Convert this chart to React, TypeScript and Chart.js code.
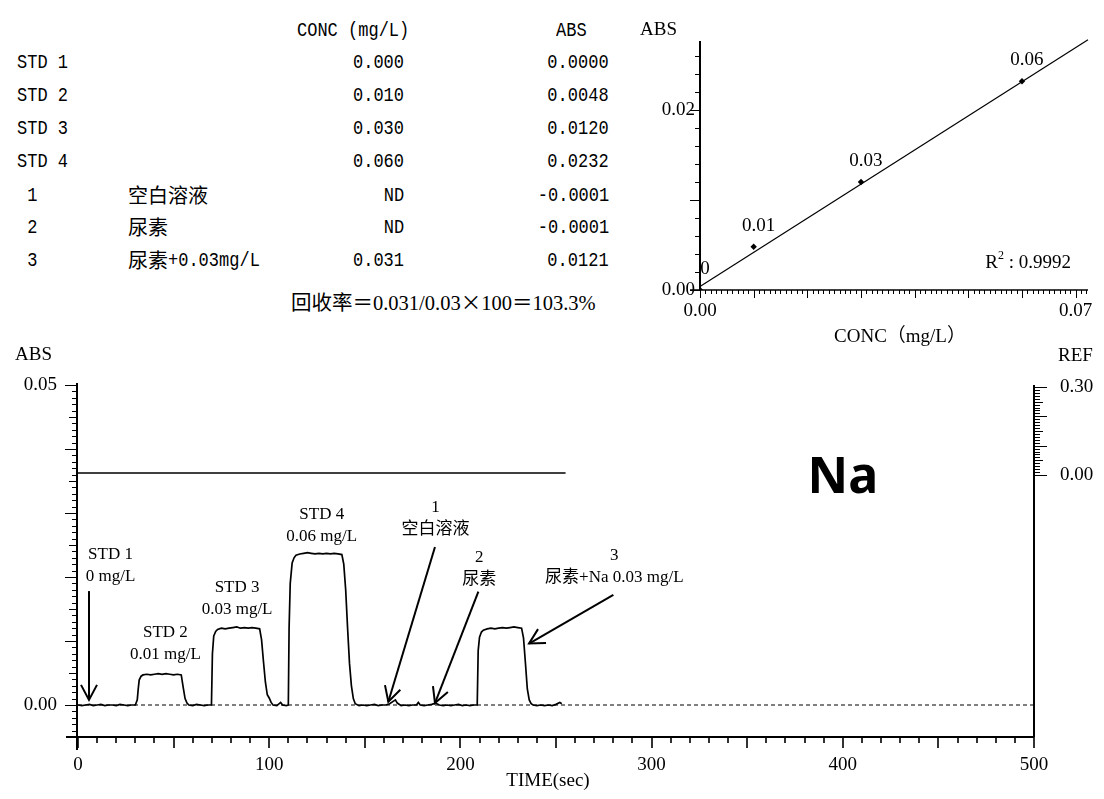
import React, { useEffect, useRef } from "react";
import { Chart, registerables } from "chart.js";

Chart.register(...registerables);

// ---------------- Table ----------------
const TABLE_IDS = ["STD 1", "STD 2", "STD 3", "STD 4", " 1", " 2", " 3"];
const TABLE_NAMES = ["", "", "", "", "空白溶液", "尿素", "尿素+0.03mg/L"];
const TABLE_CONC = ["0.000", "0.010", "0.030", "0.060", "ND", "ND", "0.031"];
const TABLE_ABS = ["0.0000", "0.0048", "0.0120", "0.0232", "-0.0001", "-0.0001", "0.0121"];
const TABLE_HEAD_CONC = "CONC (mg/L)";
const TABLE_HEAD_ABS = "ABS";
const RECOVERY_PARTS = ["回收率＝0.031/0.03", "×", "100＝103.3%"];

// ---------------- Calibration curve ----------------
const STD_CONC = [0, 0.01, 0.03, 0.06];
const STD_ABS = [0.0, 0.0048, 0.012, 0.0232];
const STD_POINT_LABELS = ["0", "0.01", "0.03", "0.06"];
const FIT_CONC = [0, 0.0723];
const FIT_ABS = [0.0004, 0.0278];
const R2_VALUE = "0.9992";
const CAL_X_LABEL_TICKS = [0, 0.07];
const CAL_Y_LABEL_TICKS = [0, 0.02];

// ---------------- Time trace ----------------
const TIME_SEC = [
  0, 2, 4, 6, 8, 10, 12, 14, 16, 18, 20, 22, 24, 26, 28, 30,
  31, 31.5, 32, 33, 34, 36, 38, 40, 42, 44, 46, 48, 50, 52, 54,
  55, 56, 57, 58, 60, 62, 64, 66, 68, 69.8,
  70.3, 71, 72, 73, 75, 77, 79, 81, 83, 85, 87, 89, 91, 93, 95,
  96, 97, 98, 99, 100, 101, 102, 104, 106, 107, 109, 110,
  110.4, 111, 112, 113, 114, 116, 118, 120, 122, 124, 126, 128, 130, 132, 134, 136, 138,
  139, 140, 141, 142, 143, 144, 145, 147, 149, 151, 153, 155, 157, 159, 161, 163, 165, 166, 167,
  169, 171, 173, 175, 177, 178, 179, 181, 183, 185, 187, 189, 191, 193, 195, 197, 199, 201, 203,
  205, 207, 208.8,
  209.3, 210, 211, 212, 214, 216, 218, 220, 222, 224, 226, 228, 230, 232,
  233, 234, 235, 236, 237, 238, 240, 242, 244, 246, 248, 250, 252, 253,
];
const ABS_TRACE = [
  0.0, -0.0001, 0.0, 0.0001, -0.0001, 0.0, 0.0001, -0.0001, 0.0, 0.0, -0.0001, 0.0001, 0.0, -0.0001, 0.0, 0.0,
  0.0008, 0.0025, 0.0039, 0.0045, 0.0047, 0.0048, 0.0047, 0.0048, 0.0049, 0.0048, 0.0049, 0.0048, 0.0047, 0.0048, 0.0047,
  0.0028, 0.001, 0.0003, 0.0, -0.0001, 0.0001, 0.0, -0.0001, 0.0, 0.0,
  0.008, 0.0108, 0.0115, 0.0118, 0.012, 0.0119, 0.012, 0.0121, 0.0122, 0.012, 0.0121, 0.012, 0.0121, 0.012, 0.0119,
  0.0102, 0.0068, 0.0036, 0.0016, 0.0011, 0.0004, 0.0, -0.0001, 0.0004, 0.0, -0.0001, 0.0,
  0.012, 0.019, 0.0222, 0.023, 0.0234, 0.0236, 0.0237, 0.0238, 0.0237, 0.0236, 0.0237, 0.0236, 0.0237, 0.0236, 0.0237, 0.0236, 0.0235,
  0.022, 0.018, 0.012, 0.0065, 0.003, 0.001, 0.0002, -0.0001, 0.0, -0.0001, 0.0, 0.0001, -0.0001, 0.0, 0.0, 0.0002, 0.0006, 0.0008, 0.0003,
  -0.0001, 0.0, -0.0001, 0.0, 0.0, 0.0004, 0.0, -0.0001, 0.0, 0.0001, 0.0003, 0.0, -0.0001, 0.0, -0.0001, 0.0, 0.0001, -0.0001, 0.0,
  -0.0001, 0.0, 0.0,
  0.0085, 0.0106, 0.0114, 0.0117, 0.0119, 0.012, 0.0119, 0.012, 0.0121, 0.012, 0.0121, 0.0122, 0.0121, 0.012,
  0.0105, 0.0066, 0.0025, 0.0008, 0.0002, 0.0, -0.0001, 0.0, -0.0001, 0.0, -0.0001, 0.0001, 0.0004, 0.0002,
];
const REF_TIME = [0, 255];
const REF_TRACE = [0.007, 0.007];
const BASELINE_TIME = [0, 500];
const BASELINE_ABS = [0, 0];
const ABS_LABEL_TICKS = [0, 0.05];
const TIME_LABEL_TICKS = [0, 100, 200, 300, 400, 500];
const REF_LABEL_TICKS = [0, 0.3];

// annotation anchors (data space: time in s, ABS of first text line)
const NOTES = [
  { lines: ["STD 1", "0 mg/L"], t: 17.0, a: 0.02344, arrow: [5.75, 0.0178, 5.75, 0.0008] },
  { lines: ["STD 2", "0.01 mg/L"], t: 45.7, a: 0.0114, arrow: null },
  { lines: ["STD 3", "0.03 mg/L"], t: 83.2, a: 0.0183, arrow: null },
  { lines: ["STD 4", "0.06 mg/L"], t: 127.5, a: 0.0298, arrow: null },
  { lines: ["1", "空白溶液"], t: 187.0, a: 0.0309, arrow: [186.7, 0.0247, 162.3, 0.0005] },
  { lines: ["2", "尿素"], t: 209.9, a: 0.0231, arrow: [209.4, 0.0177, 186.7, 0.0003] },
  { lines: ["3", "尿素+Na 0.03 mg/L"], t: 280.5, a: 0.0234, arrow: [280.0, 0.0172, 235.9, 0.0096] },
];
const ELEMENT_LABEL = { text: "Na", t: 400, a: 0.0353 };

const SERIF = "'Liberation Serif', 'Noto Sans CJK SC', serif";
const MONO = "'Liberation Mono', 'DejaVu Sans Mono', monospace";
const CJK = "'Noto Sans CJK SC', sans-serif";

function drawArrow(ctx: CanvasRenderingContext2D, x1: number, y1: number, x2: number, y2: number) {
  ctx.beginPath();
  ctx.moveTo(x1, y1);
  ctx.lineTo(x2, y2);
  ctx.stroke();
  const ang = Math.atan2(y2 - y1, x2 - x1);
  const L = 17;
  const A = 0.49;
  ctx.beginPath();
  ctx.moveTo(x2 - L * Math.cos(ang - A), y2 - L * Math.sin(ang - A));
  ctx.lineTo(x2, y2);
  ctx.lineTo(x2 - L * Math.cos(ang + A), y2 - L * Math.sin(ang + A));
  ctx.stroke();
}

const calPlugin = {
  id: "calAxes",
  afterDatasetsDraw(chart: any) {
    const { ctx, chartArea: a, scales } = chart;
    const xs = scales.x;
    const ys = scales.y;
    ctx.save();
    ctx.strokeStyle = "#000";
    ctx.fillStyle = "#000";
    // axis lines
    ctx.lineWidth = 2;
    ctx.beginPath();
    ctx.moveTo(a.left, a.top);
    ctx.lineTo(a.left, a.bottom + 1);
    ctx.stroke();
    ctx.lineWidth = 1.5;
    ctx.beginPath();
    ctx.moveTo(a.left - 10, a.bottom);
    ctx.lineTo(a.right, a.bottom);
    ctx.stroke();
    // ticks
    ctx.lineWidth = 1;
    ctx.beginPath();
    for (let i = 0; i <= 13; i++) {
      const y = Math.round(ys.getPixelForValue(i * 0.002)) + 0.5;
      const len = i % 5 === 0 ? 10 : 5;
      ctx.moveTo(a.left, y);
      ctx.lineTo(a.left - len, y);
    }
    for (let i = 0; i <= 72; i++) {
      const x = Math.round(xs.getPixelForValue(i * 0.001)) + 0.5;
      const len = i % 10 === 0 ? 8 : 4;
      ctx.moveTo(x, a.bottom);
      ctx.lineTo(x, a.bottom + len);
    }
    ctx.stroke();
    // tick labels
    ctx.font = `19px ${SERIF}`;
    ctx.textBaseline = "middle";
    ctx.textAlign = "right";
    CAL_Y_LABEL_TICKS.forEach((v) => ctx.fillText(v.toFixed(2), a.left - 5, ys.getPixelForValue(v)));
    ctx.textAlign = "center";
    CAL_X_LABEL_TICKS.forEach((v) => ctx.fillText(v.toFixed(2), xs.getPixelForValue(v), a.bottom + 21));
    // axis titles
    ctx.textAlign = "left";
    ctx.fillText("ABS", a.left - 60, a.top - 11);
    ctx.textAlign = "center";
    ctx.fillText("CONC（mg/L）", (a.left + a.right) / 2 + 6, a.bottom + 47);
    // point labels
    STD_CONC.forEach((c, i) => {
      ctx.fillText(STD_POINT_LABELS[i], xs.getPixelForValue(c) + 5, ys.getPixelForValue(STD_ABS[i]) - 21);
    });
    // R^2
    const big = `19px ${SERIF}`;
    const small = `12px ${SERIF}`;
    const rest = " : " + R2_VALUE;
    ctx.font = big;
    const wR = ctx.measureText("R").width;
    const wRest = ctx.measureText(rest).width;
    ctx.font = small;
    const w2 = ctx.measureText("2").width;
    const total = wR + w2 + wRest;
    let x0 = a.right - 17 - total;
    const yR = a.bottom - 27;
    ctx.textAlign = "left";
    ctx.font = big;
    ctx.fillText("R", x0, yR);
    x0 += wR;
    ctx.font = small;
    ctx.fillText("2", x0, yR - 7);
    x0 += w2;
    ctx.font = big;
    ctx.fillText(rest, x0, yR);
    ctx.restore();
  },
};

const tracePlugin = {
  id: "traceAxes",
  afterDatasetsDraw(chart: any) {
    const { ctx, chartArea: a, scales } = chart;
    const xs = scales.x;
    const ys = scales.y;
    const y2 = scales.y2;
    ctx.save();
    ctx.strokeStyle = "#000";
    ctx.fillStyle = "#000";
    // frame lines (left, bottom, right)
    ctx.lineWidth = 2;
    ctx.beginPath();
    ctx.moveTo(a.left - 1, a.top - 2);
    ctx.lineTo(a.left - 1, a.bottom + 13);
    ctx.moveTo(a.left - 12, a.bottom);
    ctx.lineTo(a.right, a.bottom);
    ctx.moveTo(a.right, a.top);
    ctx.lineTo(a.right, a.bottom);
    ctx.stroke();
    // left ticks
    ctx.lineWidth = 1.2;
    ctx.beginPath();
    for (let i = -5; i <= 50; i++) {
      const y = Math.round(ys.getPixelForValue(i * 0.001)) + 0.5;
      const len = i % 10 === 0 ? 12 : i % 5 === 0 ? 8 : 5;
      ctx.moveTo(a.left - 1, y);
      ctx.lineTo(a.left - 1 - len, y);
    }
    ctx.stroke();
    // bottom ticks
    ctx.lineWidth = 1.6;
    ctx.beginPath();
    for (let i = 0; i <= 50; i++) {
      const x = Math.round(xs.getPixelForValue(i * 10));
      const len = i % 5 === 0 ? 11 : 6;
      ctx.moveTo(x, a.bottom);
      ctx.lineTo(x, a.bottom + len);
    }
    ctx.stroke();
    // REF ticks
    ctx.lineWidth = 1;
    ctx.beginPath();
    for (let i = 0; i <= 30; i++) {
      const y = Math.round(y2.getPixelForValue(i * 0.01)) + 0.5;
      const len = i % 10 === 0 ? 13 : i % 5 === 0 ? 9 : 6;
      ctx.moveTo(a.right, y);
      ctx.lineTo(a.right + len, y);
    }
    ctx.stroke();
    // labels
    ctx.font = `19px ${SERIF}`;
    ctx.textBaseline = "middle";
    ctx.textAlign = "right";
    ABS_LABEL_TICKS.forEach((v) => ctx.fillText(v.toFixed(2), a.left - 21, ys.getPixelForValue(v)));
    ctx.textAlign = "center";
    TIME_LABEL_TICKS.forEach((v) => ctx.fillText(String(v), xs.getPixelForValue(v), a.bottom + 28));
    ctx.textAlign = "left";
    REF_LABEL_TICKS.forEach((v) => ctx.fillText(v.toFixed(2), a.right + 26, y2.getPixelForValue(v)));
    ctx.fillText("ABS", a.left - 63, a.top - 30);
    ctx.fillText("REF", a.right + 24, a.top - 29);
    ctx.textAlign = "center";
    ctx.fillText("TIME(sec)", (a.left + a.right) / 2 - 8, a.bottom + 44);
    // annotations
    ctx.font = `17px ${SERIF}`;
    NOTES.forEach((n) => {
      const x = xs.getPixelForValue(n.t);
      const y = ys.getPixelForValue(n.a);
      n.lines.forEach((ln, k) => ctx.fillText(ln, x, y + k * 22));
      if (n.arrow) {
        ctx.lineWidth = 2;
        drawArrow(
          ctx,
          xs.getPixelForValue(n.arrow[0]),
          ys.getPixelForValue(n.arrow[1]),
          xs.getPixelForValue(n.arrow[2]),
          ys.getPixelForValue(n.arrow[3])
        );
      }
    });
    ctx.font = `bold 50px 'Noto Sans', 'Liberation Sans', sans-serif`;
    ctx.fillText(ELEMENT_LABEL.text, xs.getPixelForValue(ELEMENT_LABEL.t), ys.getPixelForValue(ELEMENT_LABEL.a));
    ctx.restore();
  },
};

function MonoText({ text, x, y, align }: { text: string; x: number; y: number; align: "left" | "right" }) {
  const style: React.CSSProperties = {
    position: "absolute",
    top: y - 11,
    height: 24,
    lineHeight: "24px",
    fontFamily: MONO,
    fontSize: 21,
    whiteSpace: "pre",
    color: "#000",
    transform: "scaleX(0.81)",
    transformOrigin: align === "right" ? "right center" : "left center",
  };
  if (align === "right") style.right = 1104 - x;
  else style.left = x;
  return <div style={style}>{text}</div>;
}

function NameCell({ text, x, y }: { text: string; x: number; y: number }) {
  const m = text.match(/^[\u4e00-\u9fff]+/);
  const cjk = m ? m[0] : "";
  const rest = text.slice(cjk.length);
  return (
    <>
      {cjk && (
        <div
          style={{
            position: "absolute",
            left: x,
            top: y - 12,
            height: 24,
            lineHeight: "24px",
            fontFamily: CJK,
            fontSize: 20,
            whiteSpace: "pre",
            color: "#000",
          }}
        >
          {cjk}
        </div>
      )}
      {rest && <MonoText text={rest} x={x + cjk.length * 20} y={y} align="left" />}
    </>
  );
}

const ROW_Y = [62, 95, 128, 161, 195, 227, 260];

export default function App() {
  const calRef = useRef<HTMLCanvasElement | null>(null);
  const traceRef = useRef<HTMLCanvasElement | null>(null);

  useEffect(() => {
    const calCanvas = calRef.current!;
    const traceCanvas = traceRef.current!;

    const cal = new Chart(calCanvas, {
      type: "scatter",
      data: {
        datasets: [
          {
            data: FIT_CONC.map((c, i) => ({ x: c, y: FIT_ABS[i] })),
            showLine: true,
            borderColor: "#000",
            borderWidth: 1.2,
            pointRadius: 0,
            clip: false as any,
          },
          {
            data: STD_CONC.map((c, i) => ({ x: c, y: STD_ABS[i] })),
            showLine: false,
            pointStyle: "rectRot",
            pointRadius: 3.2,
            backgroundColor: "#000",
            borderColor: "#000",
            borderWidth: 0,
          },
        ],
      },
      options: {
        animation: false,
        responsive: false,
        maintainAspectRatio: false,
        events: [],
        layout: { padding: { left: 100, right: 16, top: 41, bottom: 70 } },
        plugins: { legend: { display: false }, tooltip: { enabled: false } },
        scales: {
          x: { type: "linear", min: 0, max: 0.0723, display: false },
          y: { type: "linear", min: 0, max: 0.02767, display: false },
        },
      },
      plugins: [calPlugin],
    });

    const trace = new Chart(traceCanvas, {
      type: "line",
      data: {
        datasets: [
          {
            data: BASELINE_TIME.map((t, i) => ({ x: t, y: BASELINE_ABS[i] })),
            borderColor: "#000",
            borderWidth: 1.2,
            borderDash: [4, 3],
            pointRadius: 0,
            yAxisID: "y",
          },
          {
            data: REF_TIME.map((t, i) => ({ x: t, y: REF_TRACE[i] })),
            borderColor: "#000",
            borderWidth: 1.5,
            pointRadius: 0,
            yAxisID: "y2",
          },
          {
            data: TIME_SEC.map((t, i) => ({ x: t, y: ABS_TRACE[i] })),
            borderColor: "#000",
            borderWidth: 1.7,
            pointRadius: 0,
            tension: 0,
            yAxisID: "y",
          },
        ],
      },
      options: {
        animation: false,
        responsive: false,
        maintainAspectRatio: false,
        events: [],
        layout: { padding: { left: 78, right: 70, top: 45, bottom: 62 } },
        plugins: { legend: { display: false }, tooltip: { enabled: false } },
        scales: {
          x: { type: "linear", min: 0, max: 500, display: false },
          y: { type: "linear", min: -0.005, max: 0.05, display: false },
          y2: { type: "linear", min: -0.8932, max: 0.3068, display: false, position: "right" },
        },
      },
      plugins: [tracePlugin],
    });

    return () => {
      cal.destroy();
      trace.destroy();
    };
  }, []);

  return (
    <div
      style={{
        position: "absolute",
        left: 0,
        top: 0,
        width: 1104,
        height: 799,
        background: "#fff",
        overflow: "hidden",
      }}
    >
      {/* table */}
      <MonoText text={TABLE_HEAD_CONC} x={297} y={30} align="left" />
      <MonoText text={TABLE_HEAD_ABS} x={556} y={30} align="left" />
      {TABLE_IDS.map((id, i) => (
        <React.Fragment key={i}>
          <MonoText text={id} x={17} y={ROW_Y[i]} align="left" />
          {TABLE_NAMES[i] && <NameCell text={TABLE_NAMES[i]} x={128} y={ROW_Y[i]} />}
          <MonoText text={TABLE_CONC[i]} x={404} y={ROW_Y[i]} align="right" />
          <MonoText text={TABLE_ABS[i]} x={609} y={ROW_Y[i]} align="right" />
        </React.Fragment>
      ))}
      <div
        style={{
          position: "absolute",
          left: 291,
          top: 301 - 12,
          height: 24,
          lineHeight: "24px",
          fontFamily: SERIF,
          fontSize: 20.5,
          whiteSpace: "pre",
          color: "#000",
        }}
      >
        {RECOVERY_PARTS[0]}
        <span style={{ fontFamily: CJK }}>{RECOVERY_PARTS[1]}</span>
        {RECOVERY_PARTS[2]}
      </div>

      <canvas
        ref={calRef}
        width={504}
        height={360}
        style={{ position: "absolute", left: 600, top: 0, width: 504, height: 360 }}
      />
      <canvas
        ref={traceRef}
        width={1104}
        height={459}
        style={{ position: "absolute", left: 0, top: 340, width: 1104, height: 459 }}
      />
    </div>
  );
}
